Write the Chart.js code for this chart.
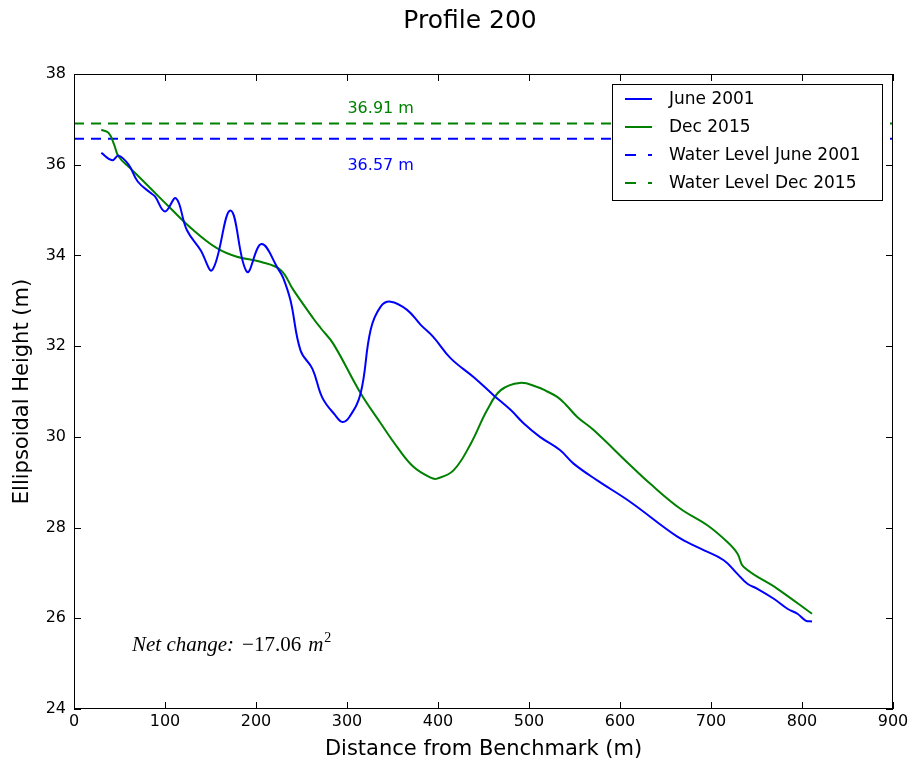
<!DOCTYPE html>
<html>
<head>
<meta charset="utf-8">
<script src="https://cdn.jsdelivr.net/npm/chart.js@4.4.0/dist/chart.umd.min.js"></script>
<style>
  body { margin: 0; background: #fff; }
  #wrap { width: 914px; height: 764px; position: relative; }
</style>
</head>
<body>
<div id="wrap"><canvas id="grafico"></canvas></div>
<script>
var distJune = [30, 42, 49, 60, 70, 84, 89, 100, 112, 124, 139, 152, 172, 190, 206, 225, 230, 238, 249, 262, 273, 287, 295, 303, 315, 326, 337, 348, 366, 381, 395, 414, 439, 461, 480, 494, 512, 534, 549, 575, 611, 663, 688, 714, 729, 740, 751, 769, 784, 795, 804, 811];
var alturaJune = [36.26, 36.1, 36.2, 36.0, 35.63, 35.38, 35.3, 34.97, 35.26, 34.56, 34.12, 33.68, 34.99, 33.64, 34.25, 33.68, 33.5, 33.0, 31.9, 31.5, 30.86, 30.48, 30.33, 30.45, 30.96, 32.36, 32.87, 32.98, 32.8, 32.47, 32.2, 31.73, 31.32, 30.92, 30.59, 30.3, 30.0, 29.71, 29.41, 29.04, 28.57, 27.8, 27.54, 27.28, 26.98, 26.76, 26.65, 26.43, 26.21, 26.1, 25.95, 25.93];

var distDec = [30, 38, 44, 49, 62, 84, 106, 131, 157, 179, 205, 227, 241, 263, 271, 285, 315, 337, 355, 373, 392, 399, 417, 436, 454, 469, 490, 509, 520, 531, 540, 553, 571, 611, 633, 666, 696, 718, 729, 736, 773, 811];
var alturaDec = [36.77, 36.7, 36.45, 36.18, 35.92, 35.48, 35.04, 34.56, 34.16, 33.97, 33.86, 33.68, 33.24, 32.61, 32.4, 32.05, 30.96, 30.3, 29.78, 29.34, 29.1, 29.08, 29.26, 29.85, 30.59, 31.03, 31.19, 31.1, 31.0, 30.88, 30.72, 30.44, 30.15, 29.38, 28.97, 28.42, 28.05, 27.68, 27.43, 27.13, 26.65, 26.1];

var nivelJune = 36.57;
var nivelDec = 36.91;
var rangoX = [0, 900];
var rangoY = [24, 38];

var etiquetas = ["June 2001", "Dec 2015", "Water Level June 2001", "Water Level Dec 2015"];

var azul = "#0000ff";
var verde = "#008000";

function aPuntos(xs, ys) {
  var lista = [];
  for (var i = 0; i < xs.length; i++) {
    lista.push({ x: xs[i], y: ys[i] });
  }
  return lista;
}

// plugin para caja, ticks hacia dentro, titulo, leyenda y textos
var extras = {
  id: "extras",
  afterDraw: function (chart) {
    var ctx = chart.ctx;
    var a = chart.chartArea;
    var sx = chart.scales.x;
    var sy = chart.scales.y;
    ctx.save();
    ctx.strokeStyle = "#000";
    ctx.lineWidth = 1;
    ctx.strokeRect(a.left + 0.5, a.top + 0.5, a.right - a.left - 1, a.bottom - a.top - 1);

    // ticks hacia dentro en los cuatro lados
    ctx.beginPath();
    for (var v = 0; v <= 900; v += 100) {
      var px = Math.round(sx.getPixelForValue(v)) + 0.5;
      ctx.moveTo(px, a.bottom); ctx.lineTo(px, a.bottom - 7);
      ctx.moveTo(px, a.top); ctx.lineTo(px, a.top + 7);
    }
    for (var w = 24; w <= 38; w += 2) {
      var py = Math.round(sy.getPixelForValue(w)) + 0.5;
      ctx.moveTo(a.left, py); ctx.lineTo(a.left + 7, py);
      ctx.moveTo(a.right, py); ctx.lineTo(a.right - 7, py);
    }
    ctx.stroke();

    // titulo
    ctx.fillStyle = "#000";
    ctx.font = "25px 'DejaVu Sans'";
    ctx.textAlign = "center";
    ctx.textBaseline = "middle";
    ctx.fillText("Profile 200", 470, 21);

    // etiquetas de nivel
    ctx.font = "16px 'DejaVu Sans'";
    ctx.fillStyle = verde;
    ctx.fillText(nivelDec.toFixed(2) + " m", sx.getPixelForValue(337), sy.getPixelForValue(nivelDec) - 15);
    ctx.fillStyle = azul;
    ctx.fillText(nivelJune.toFixed(2) + " m", sx.getPixelForValue(337), sy.getPixelForValue(nivelJune) + 27);

    // texto cambio neto
    ctx.fillStyle = "#000";
    ctx.textAlign = "left";
    ctx.textBaseline = "alphabetic";
    var tx = 132, ty = 651;
    ctx.font = "italic 21px 'Liberation Serif'";
    ctx.fillText("Net change:", tx, ty);
    tx += ctx.measureText("Net change:").width + 8;
    ctx.font = "21px 'Liberation Serif'";
    ctx.fillText("\u221217.06", tx, ty);
    tx += ctx.measureText("\u221217.06").width + 7;
    ctx.font = "italic 21px 'Liberation Serif'";
    ctx.fillText("m", tx, ty);
    tx += ctx.measureText("m").width + 1;
    ctx.font = "14px 'Liberation Serif'";
    ctx.fillText("2", tx, ty - 9);

    // leyenda
    var lx = 612, ly = 84, lw = 270, lh = 116;
    ctx.fillStyle = "#fff";
    ctx.fillRect(lx, ly, lw, lh);
    ctx.strokeStyle = "#000";
    ctx.lineWidth = 1;
    ctx.strokeRect(lx + 0.5, ly + 0.5, lw, lh);
    var colores = [azul, verde, azul, verde];
    ctx.font = "17px 'DejaVu Sans'";
    ctx.textBaseline = "middle";
    for (var i = 0; i < etiquetas.length; i++) {
      var yy = ly + 15 + i * 28;
      ctx.strokeStyle = colores[i];
      ctx.lineWidth = 2;
      ctx.beginPath();
      if (i < 2) {
        ctx.moveTo(lx + 13, yy); ctx.lineTo(lx + 40, yy);
      } else {
        ctx.moveTo(lx + 13, yy); ctx.lineTo(lx + 24, yy);
        ctx.moveTo(lx + 36, yy); ctx.lineTo(lx + 40, yy);
      }
      ctx.stroke();
      ctx.fillStyle = "#000";
      ctx.fillText(etiquetas[i], lx + 57, yy + 1);
    }
    ctx.restore();
  }
};

var canvas = document.getElementById("grafico");
canvas.width = 914;
canvas.height = 764;

new Chart(canvas.getContext("2d"), {
  type: "scatter",
  data: {
    datasets: [
      {
        label: etiquetas[0],
        data: aPuntos(distJune, alturaJune),
        showLine: true,
        borderColor: azul,
        borderWidth: 2,
        pointRadius: 0,
        tension: 0.4
      },
      {
        label: etiquetas[1],
        data: aPuntos(distDec, alturaDec),
        showLine: true,
        borderColor: verde,
        borderWidth: 2,
        pointRadius: 0,
        tension: 0.4
      },
      {
        label: etiquetas[2],
        data: aPuntos(rangoX, [nivelJune, nivelJune]),
        showLine: true,
        borderColor: azul,
        borderWidth: 2,
        borderDash: [10, 7],
        pointRadius: 0
      },
      {
        label: etiquetas[3],
        data: aPuntos(rangoX, [nivelDec, nivelDec]),
        showLine: true,
        borderColor: verde,
        borderWidth: 2,
        borderDash: [10, 7],
        pointRadius: 0
      }
    ]
  },
  options: {
    responsive: false,
    animation: false,
    layout: { padding: { top: 74, right: 21, left: 0, bottom: 0 } },
    plugins: {
      legend: { display: false },
      tooltip: { enabled: false }
    },
    scales: {
      x: {
        type: "linear",
        min: rangoX[0],
        max: rangoX[1],
        afterFit: function (s) { s.height = 55; },
        grid: { display: false, drawTicks: false },
        border: { display: false },
        ticks: { stepSize: 100, color: "#000", font: { family: "DejaVu Sans", size: 16 }, padding: 3 },
        title: { display: true, text: "Distance from Benchmark (m)", color: "#000", font: { family: "DejaVu Sans", size: 21 }, padding: { top: 0, bottom: 2 } }
      },
      y: {
        min: rangoY[0],
        max: rangoY[1],
        afterFit: function (s) { s.width = 74; },
        grid: { display: false, drawTicks: false },
        border: { display: false },
        ticks: { stepSize: 2, color: "#000", font: { family: "DejaVu Sans", size: 16 }, padding: 8 },
        title: { display: true, text: "Ellipsoidal Height (m)", color: "#000", font: { family: "DejaVu Sans", size: 21 }, padding: { top: 10, bottom: 0 } }
      }
    }
  },
  plugins: [extras]
});
</script>
</body>
</html>
